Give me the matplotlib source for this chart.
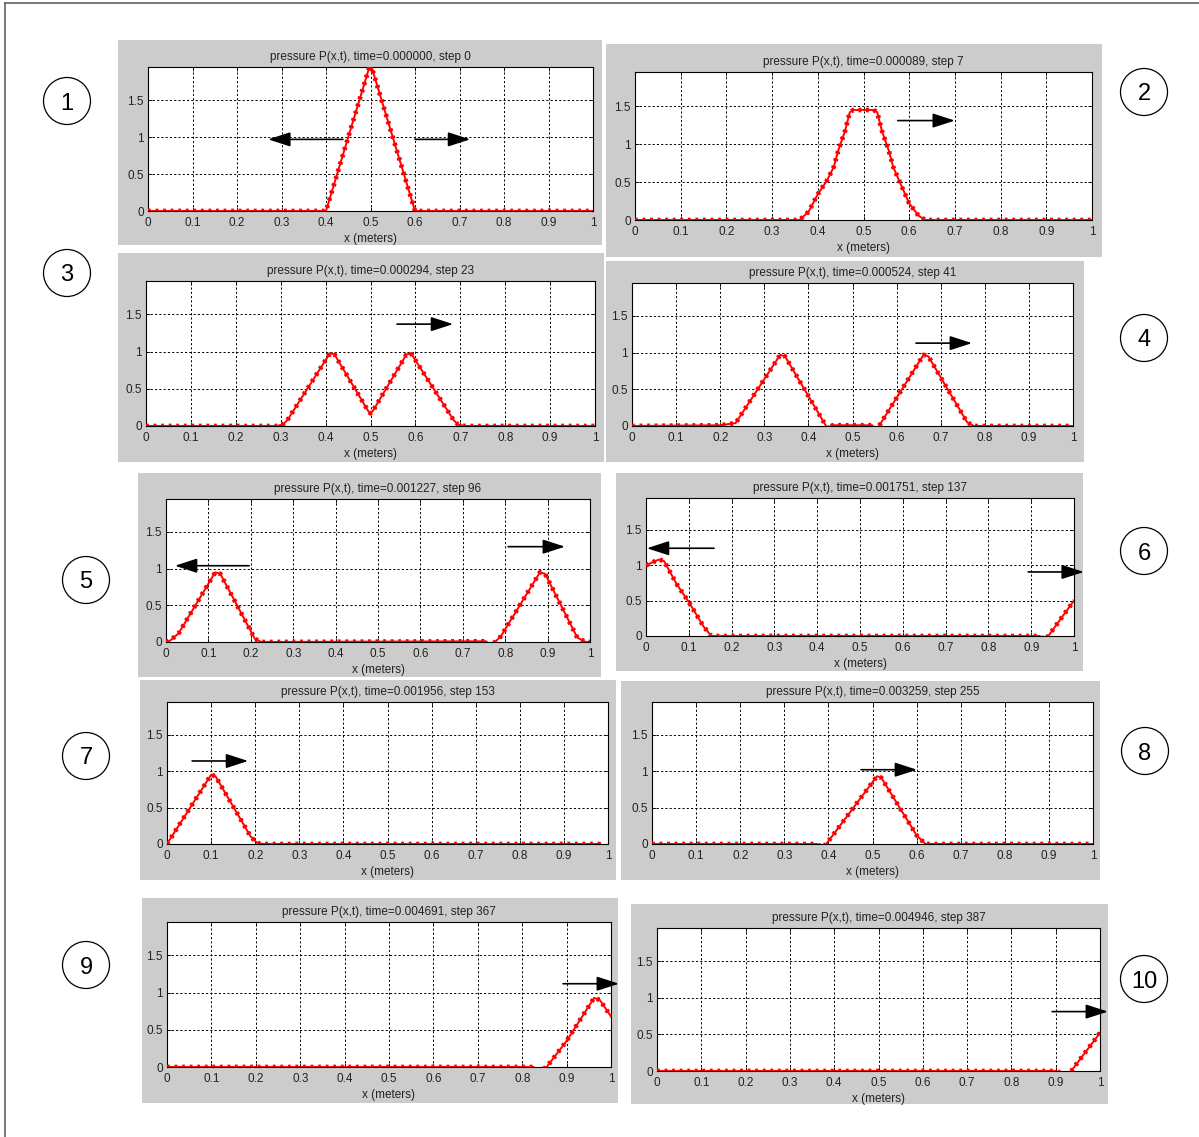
import matplotlib
matplotlib.use("Agg")
import matplotlib.pyplot as plt
from matplotlib.patches import Rectangle, Ellipse
from matplotlib.lines import Line2D

plt.rcParams['font.family'] = ['Liberation Sans', 'DejaVu Sans']

W, H = 1199, 1137

# snapshot labels
times = ["0.000000", "0.000089", "0.000294", "0.000524", "0.001227",
         "0.001751", "0.001956", "0.003259", "0.004691", "0.004946"]
steps = [0, 7, 23, 41, 96, 137, 153, 255, 367, 387]

# pressure profiles P(x) at each snapshot (negative dips fall below the axis)
x1 = [0, 0.4, 0.5, 0.6, 1.0]
p1 = [0, 0, 2.0, 0, 0]

x2 = [0, 0.36, 0.38, 0.40, 0.42, 0.435, 0.445, 0.46, 0.47, 0.478, 0.522, 0.53,
      0.54, 0.555, 0.565, 0.58, 0.60, 0.62, 0.635, 1.0]
p2 = [0, 0, 0.11, 0.34, 0.52, 0.70, 0.92, 1.18, 1.42, 1.45, 1.45, 1.42,
      1.18, 0.92, 0.70, 0.49, 0.22, 0.06, 0, 0]

x3 = [0, 0.29, 0.305, 0.315, 0.41, 0.42, 0.495, 0.5, 0.505, 0.58, 0.59,
      0.685, 0.695, 0.71, 1.0]
p3 = [0, 0, 0.02, 0.08, 0.98, 0.96, 0.2, 0.17, 0.2, 0.96, 0.98,
      0.08, 0.02, 0, 0]

x4 = [0, 0.2, 0.235, 0.336, 0.347, 0.44, 0.448, 0.455, 0.545, 0.552, 0.56,
      0.661, 0.672, 0.76, 0.775, 1.0]
p4 = [0, 0.01, 0.04, 0.97, 0.95, 0.0, -0.05, 0.01, 0.01, -0.05, 0.0,
      0.97, 0.95, 0.05, 0, 0]

x5 = [0, 0.01, 0.03, 0.116, 0.128, 0.21, 0.225, 0.24, 0.755, 0.765, 0.776,
      0.79, 0.882, 0.894, 0.97, 0.99, 1.0]
p5 = [0, 0.02, 0.12, 0.95, 0.93, 0.04, 0, 0, 0.01, -0.05, 0,
      0.08, 0.95, 0.93, 0.06, 0, 0]

x6 = [0, 0.03, 0.042, 0.072, 0.1, 0.135, 0.153, 0.6, 0.92, 0.93, 0.94, 1.0]
p6 = [1.0, 1.08, 1.06, 0.73, 0.48, 0.13, 0, 0, 0, -0.05, 0, 0.5]

x7 = [0, 0.1, 0.11, 0.19, 0.205, 0.22, 0.98, 1.0]
p7 = [0, 0.95, 0.93, 0.1, 0.01, 0, 0, -0.05]

x8 = [0, 0.375, 0.385, 0.395, 0.42, 0.51, 0.52, 0.6, 0.62, 1.0]
p8 = [0, 0, -0.05, 0, 0.2, 0.93, 0.91, 0.12, 0, 0]

x9 = [0, 0.825, 0.84, 0.855, 0.9, 0.962, 0.975, 1.0]
p9 = [0, 0, -0.05, 0, 0.35, 0.93, 0.9, 0.68]

x10 = [0, 0.9, 0.92, 0.935, 1.0]
p10 = [0, 0, -0.05, 0, 0.52]

xs = [x1, x2, x3, x4, x5, x6, x7, x8, x9, x10]
ps = [p1, p2, p3, p4, p5, p6, p7, p8, p9, p10]

# direction arrows per panel: (x_start, x_end, y)
arrows = [
    [(0.438, 0.27, 0.97), (0.60, 0.724, 0.97)],
    [(0.575, 0.70, 1.31)],
    [(0.559, 0.684, 1.37)],
    [(0.644, 0.771, 1.13)],
    [(0.196, 0.021, 1.04), (0.807, 0.941, 1.30)],
    [(0.159, 0.002, 1.24), (0.893, 1.023, 0.905)],
    [(0.057, 0.184, 1.14)],
    [(0.474, 0.601, 1.02)],
    [(0.892, 1.018, 1.12)],
    [(0.892, 1.018, 0.81)],
]

# layout in pixels
gray_boxes = [(118, 40, 602, 245), (606, 44, 1102, 257), (118, 253, 604, 462),
              (606, 261, 1084, 462), (138, 473, 601, 677), (616, 473, 1083, 671),
              (140, 680, 616, 880), (621, 681, 1100, 880), (142, 898, 618, 1103),
              (631, 904, 1108, 1104)]
ax_boxes = [(148, 67, 593, 211), (635, 72, 1092, 220), (146, 281, 595, 426),
            (632, 283, 1073, 426), (166, 499, 590, 642), (646, 498, 1074, 636),
            (167, 702, 608, 844), (652, 702, 1093, 844), (167, 922, 611, 1067),
            (657, 928, 1100, 1071)]
circles = [(67, 101), (1144, 92), (67, 273), (1144, 338), (86, 580),
           (1144, 551), (86, 756), (1145, 751), (86, 965), (1144, 979)]

xticks = [i / 10 for i in range(11)]
xticklabels = ['0'] + ['0.%d' % i for i in range(1, 10)] + ['1']
yticks = [0, 0.5, 1, 1.5]
yticklabels = ['0', '0.5', '1', '1.5']

fig = plt.figure(figsize=(W / 100, H / 100), dpi=100)
fig.patch.set_facecolor('white')

# page frame
fig.add_artist(Line2D([5 / W, 5 / W], [0, 1 - 3 / H], transform=fig.transFigure,
                      color='#555555', lw=1.1))
fig.add_artist(Line2D([5 / W, 1], [1 - 3 / H, 1 - 3 / H], transform=fig.transFigure,
                      color='#555555', lw=1.1))

for i in range(10):
    gx0, gy0, gx1, gy1 = gray_boxes[i]
    fig.add_artist(Rectangle((gx0 / W, 1 - gy1 / H), (gx1 - gx0) / W, (gy1 - gy0) / H,
                             transform=fig.transFigure, facecolor='#cccccc',
                             edgecolor='none', zorder=-1))

    l, t, r, b = ax_boxes[i]
    ax = fig.add_axes([l / W, 1 - b / H, (r - l) / W, (b - t) / H])
    ax.set_facecolor('white')
    ax.plot(xs[i], ps[i], color='red', lw=1.4, zorder=3)
    ax.plot(xs[i], ps[i], color='red', lw=3.4, ls=(0, (0.6, 1.0)),
            dash_capstyle='butt', zorder=3)
    ax.set_xlim(0, 1)
    ax.set_ylim(0, 1.95)
    ax.set_xticks(xticks)
    ax.set_xticklabels(xticklabels)
    ax.set_yticks(yticks)
    ax.set_yticklabels(yticklabels)
    ax.grid(True, color='black', ls=(0, (2.2, 2.2)), lw=0.7)
    ax.tick_params(direction='in', length=3, top=True, right=True,
                   labelsize=8.5, width=0.6, labelcolor='#222222')
    ax.tick_params(axis='x', pad=4)
    ax.tick_params(axis='y', pad=3)
    for s in ax.spines.values():
        s.set_linewidth(0.8)
    ax.set_title('pressure P(x,t), time=%s, step %d' % (times[i], steps[i]),
                 fontsize=8.5, pad=5, color='#222222')
    ax.set_xlabel('x (meters)', fontsize=8.5, labelpad=3, color='#222222')

    for xa, xb, ya in arrows[i]:
        ax.annotate('', xy=(xb, ya), xytext=(xa, ya), annotation_clip=False,
                    arrowprops=dict(arrowstyle='-|>,head_length=0.68,head_width=0.22',
                                    color='black', lw=1.2, shrinkA=0, shrinkB=0,
                                    mutation_scale=20), zorder=5)

    cx, cy = circles[i]
    fig.add_artist(Ellipse((cx / W, 1 - cy / H), 47 / W, 47 / H, transform=fig.transFigure,
                           facecolor='white', edgecolor='black', lw=0.9))
    fig.text(cx / W, 1 - cy / H, str(i + 1), ha='center', va='center_baseline',
             fontsize=17)

fig.savefig('out.png', dpi=100)
